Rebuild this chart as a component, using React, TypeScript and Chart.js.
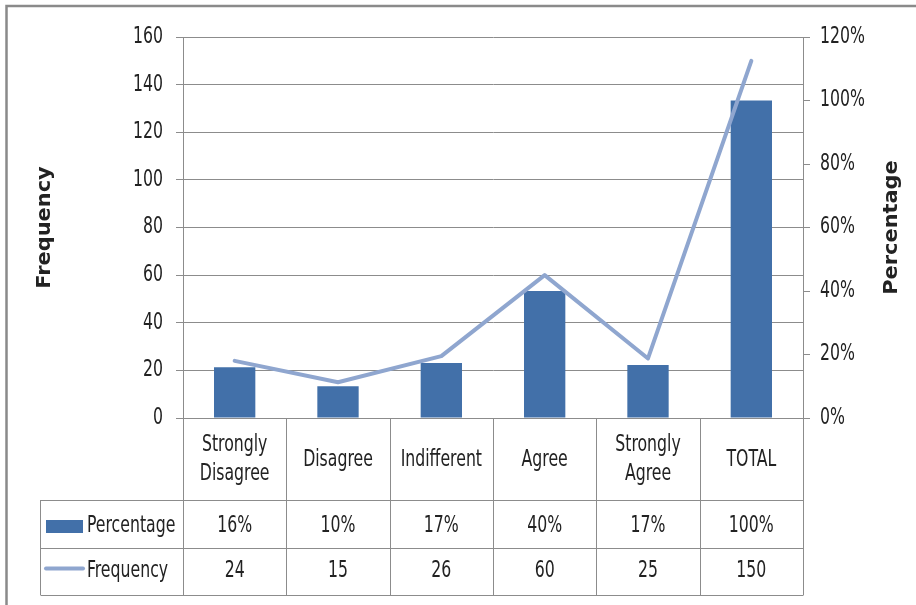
import React, { useEffect, useRef } from 'react';
import { Chart, registerables } from 'chart.js';

Chart.register(...registerables);

// ---- Data ----
const categories: string[][] = [
  ['Strongly', 'Disagree'],
  ['Disagree'],
  ['Indifferent'],
  ['Agree'],
  ['Strongly', 'Agree'],
  ['TOTAL'],
];
const percentageValues = [16, 10, 17.3, 40, 16.7, 100];
const percentageLabels = ['16%', '10%', '17%', '40%', '17%', '100%'];
const frequencyValues = [24, 15, 26, 60, 25, 150];
const frequencyLabels = ['24', '15', '26', '60', '25', '150'];
const seriesNames = ['Percentage', 'Frequency'];
const axisTitles = ['Frequency', 'Percentage'];
const leftAxis = { min: 0, max: 160, step: 20 };
const rightAxis = { min: 0, max: 120, step: 20 };

// ---- Styles ----
const BAR_COLOR = '#4270a9';
const LINE_COLOR = '#8fa6cf';
const GRID_COLOR = '#8c8c8c';
const TEXT_COLOR = '#222222';
const FONT_FAMILY = '"Liberation Sans Narrow", "DejaVu Sans Condensed", "Arial Narrow", sans-serif';
const FONT_SIZE = 23;
const SQUEEZE = 0.76;

const drawSqueezed = (ctx: any, t: string, x: number, y: number, align: string) => {
  ctx.save();
  ctx.translate(x, y);
  ctx.scale(SQUEEZE, 1);
  ctx.textAlign = align;
  ctx.textBaseline = 'middle';
  ctx.fillText(t, 0, 0);
  ctx.restore();
};

const tablePlugin = {
  id: 'dataTable',
  beforeDraw(chart: any) {
    const { ctx, width, height } = chart;
    ctx.save();
    ctx.fillStyle = '#ffffff';
    ctx.fillRect(0, 0, width, height);
    ctx.strokeStyle = '#8a8a8a';
    ctx.lineWidth = 2.5;
    ctx.beginPath();
    ctx.moveTo(6.5, height + 5);
    ctx.lineTo(6.5, 6);
    ctx.lineTo(width + 5, 6);
    ctx.stroke();
    ctx.restore();
  },
  afterDraw(chart: any) {
    const { ctx, chartArea } = chart;
    const xs = chart.scales.x;
    const yl = chart.scales.y;
    const yr = chart.scales.y1;
    const n = categories.length;
    const L = chartArea.left;
    const R = chartArea.right;
    const B = chartArea.bottom;
    const catW = (R - L) / n;
    const headerBottom = B + 82;
    const row2Bottom = headerBottom + 48;
    const row3Bottom = row2Bottom + 47;
    const tableLeft = 40;
    const px = (v: number) => Math.round(v) + 0.5;

    ctx.save();
    ctx.strokeStyle = GRID_COLOR;
    ctx.lineWidth = 1;
    ctx.beginPath();
    for (let i = 0; i <= n; i++) {
      const bx = i < n ? xs.getPixelForValue(i) - catW / 2 : xs.getPixelForValue(n - 1) + catW / 2;
      ctx.moveTo(px(bx), B);
      ctx.lineTo(px(bx), row3Bottom);
    }
    ctx.moveTo(px(tableLeft), headerBottom);
    ctx.lineTo(px(tableLeft), row3Bottom);
    [headerBottom, row2Bottom, row3Bottom].forEach((y) => {
      ctx.moveTo(px(tableLeft), px(y));
      ctx.lineTo(px(R), px(y));
    });
    ctx.stroke();

    ctx.fillStyle = TEXT_COLOR;
    ctx.font = `${FONT_SIZE}px ${FONT_FAMILY}`;

    // axis tick labels
    yl.ticks.forEach((t: any) => {
      drawSqueezed(ctx, String(t.value), L - 20, yl.getPixelForValue(t.value), 'right');
    });
    yr.ticks.forEach((t: any) => {
      drawSqueezed(ctx, `${t.value}%`, R + 17, yr.getPixelForValue(t.value), 'left');
    });

    // header text
    const headerMid = (B + headerBottom) / 2 + 1;
    const lineGap = 29;
    categories.forEach((lines, i) => {
      const cx = xs.getPixelForValue(i);
      const start = headerMid - ((lines.length - 1) * lineGap) / 2;
      lines.forEach((t, j) => drawSqueezed(ctx, t, cx, start + j * lineGap, 'center'));
    });
    const r2 = (headerBottom + row2Bottom) / 2 + 2;
    const r3 = (row2Bottom + row3Bottom) / 2;
    percentageLabels.forEach((t, i) => drawSqueezed(ctx, t, xs.getPixelForValue(i), r2, 'center'));
    frequencyLabels.forEach((t, i) => drawSqueezed(ctx, t, xs.getPixelForValue(i), r3, 'center'));

    // legend keys
    ctx.fillStyle = BAR_COLOR;
    ctx.fillRect(46, r2 - 6, 37, 13);
    ctx.strokeStyle = LINE_COLOR;
    ctx.lineWidth = 4;
    ctx.lineCap = 'round';
    ctx.beginPath();
    ctx.moveTo(46, r3 - 3);
    ctx.lineTo(83, r3 - 3);
    ctx.stroke();
    ctx.fillStyle = TEXT_COLOR;
    drawSqueezed(ctx, seriesNames[0], 87, r2, 'left');
    drawSqueezed(ctx, seriesNames[1], 87, r3, 'left');

    // axis titles (rotated, reading bottom-to-top)
    const midY = (chartArea.top + chartArea.bottom) / 2;
    ctx.font = `bold 19px "DejaVu Sans", sans-serif`;
    ctx.textAlign = 'center';
    ctx.textBaseline = 'middle';
    const drawTitle = (t: string, x: number, y: number) => {
      ctx.save();
      ctx.translate(x, y);
      ctx.rotate(-Math.PI / 2);
      ctx.scale(1.1, 1);
      ctx.fillText(t, 0, 0);
      ctx.restore();
    };
    drawTitle(axisTitles[0], 45, midY);
    drawTitle(axisTitles[1], 892, midY);
    ctx.restore();
  },
};

export default function App() {
  const ref = useRef<HTMLCanvasElement | null>(null);

  useEffect(() => {
    document.body.style.margin = '0';
    document.body.style.overflow = 'hidden';
    if (!ref.current) return;
    const chart = new Chart(ref.current, {
      type: 'bar',
      data: {
        labels: categories.map((c) => c.join(' ')),
        datasets: [
          {
            type: 'line',
            label: seriesNames[1],
            data: frequencyValues,
            yAxisID: 'y',
            borderColor: LINE_COLOR,
            backgroundColor: LINE_COLOR,
            borderWidth: 4,
            pointRadius: 0,
            tension: 0,
            borderCapStyle: 'round',
            borderJoinStyle: 'round',
            order: 0,
          } as any,
          {
            type: 'bar',
            label: seriesNames[0],
            data: percentageValues,
            yAxisID: 'y1',
            backgroundColor: BAR_COLOR,
            barPercentage: 0.8,
            categoryPercentage: 0.5,
            order: 1,
          },
        ],
      },
      options: {
        responsive: false,
        animation: false,
        layout: { padding: { top: 37, bottom: 187, left: 0, right: 0 } },
        plugins: {
          legend: { display: false },
          tooltip: { enabled: false },
        },
        scales: {
          x: { display: false },
          y: {
            position: 'left',
            min: leftAxis.min,
            max: leftAxis.max,
            ticks: { stepSize: leftAxis.step, display: false },
            grid: { color: GRID_COLOR, tickLength: 7, tickColor: GRID_COLOR },
            border: { display: true, color: GRID_COLOR },
            afterFit: (s: any) => {
              s.width = 183;
            },
          },
          y1: {
            position: 'right',
            min: rightAxis.min,
            max: rightAxis.max,
            ticks: { stepSize: rightAxis.step, display: false },
            grid: { drawOnChartArea: false, tickLength: 7, color: GRID_COLOR, tickColor: GRID_COLOR },
            border: { display: true, color: GRID_COLOR },
            afterFit: (s: any) => {
              s.width = 113;
            },
          },
        },
      },
      plugins: [tablePlugin],
    });
    return () => chart.destroy();
  }, []);

  return (
    <div style={{ width: 916, height: 605 }}>
      <canvas ref={ref} width={916} height={605} style={{ display: 'block' }} />
    </div>
  );
}
